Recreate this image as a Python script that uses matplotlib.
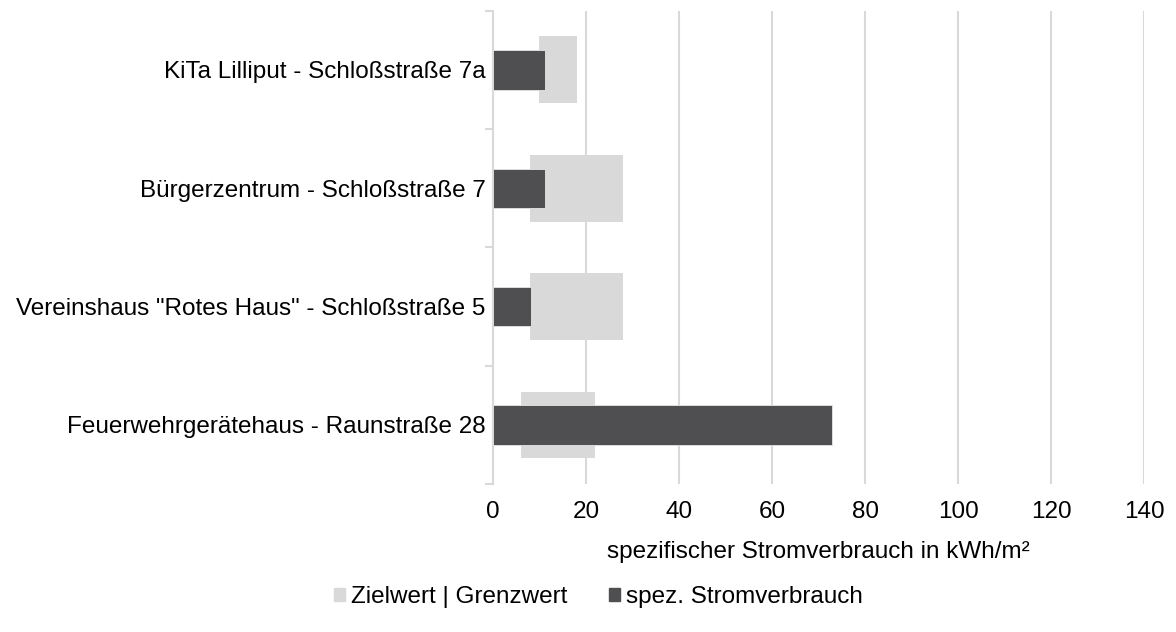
import matplotlib.pyplot as plt
from matplotlib.patches import Patch

plt.rcParams['font.family'] = ['Liberation Sans', 'DejaVu Sans']

# Daten
gebaeude = ['KiTa Lilliput - Schloßstraße 7a',
            'Bürgerzentrum - Schloßstraße 7',
            'Vereinshaus "Rotes Haus" - Schloßstraße 5',
            'Feuerwehrgerätehaus - Raunstraße 28']
zielwert = [10, 8, 8, 6]
grenzwert = [18, 28, 28, 22]
verbrauch = [11.3, 11.3, 8.3, 73]
xticks = [0, 20, 40, 60, 80, 100, 120, 140]

hell = '#d9d9d9'
dunkel = '#4f4f51'
fs = 17.5

fig = plt.figure(figsize=(11.76, 6.32), dpi=100)
ax = fig.add_axes([0.419, 0.234, 0.554, 0.749])

pos = list(range(len(gebaeude)))
spanne = [g - z for z, g in zip(zielwert, grenzwert)]
ax.barh(pos, spanne, left=zielwert, height=0.565, color=hell, zorder=2)
ax.barh(pos, verbrauch, height=0.333, color=dunkel, edgecolor='#e6e6e6',
        linewidth=0.6, zorder=3)

ax.set_xlim(0, 140)
ax.set_ylim(len(gebaeude) - 0.5, -0.5)
ax.set_xticks(xticks)
ax.set_xticklabels([str(x) for x in xticks], fontsize=fs)
ax.tick_params(axis='x', length=0, pad=12)

ax.set_yticks(pos)
ax.set_yticklabels(gebaeude, fontsize=fs)
ax.tick_params(axis='y', which='major', length=0, pad=5)
ax.set_yticks([p - 0.5 for p in range(len(gebaeude) + 1)], minor=True)
ax.tick_params(axis='y', which='minor', length=6, width=1.5, color=hell)

ax.grid(axis='x', color=hell, linewidth=1.5, zorder=0)
ax.set_axisbelow(True)
for s in ['top', 'right', 'bottom']:
    ax.spines[s].set_visible(False)
ax.spines['left'].set_color(hell)
ax.spines['left'].set_linewidth(1.5)

ax.set_xlabel('spezifischer Stromverbrauch in kWh/m²', fontsize=fs, labelpad=13)

handles = [Patch(color=hell, label='Zielwert | Grenzwert'),
           Patch(color=dunkel, label='spez. Stromverbrauch')]
fig.legend(handles=handles, loc='center', bbox_to_anchor=(0.509, 0.055), ncol=2,
           frameon=False, fontsize=fs, handlelength=0.45, handleheight=0.45,
           handletextpad=0.25, columnspacing=1.7)

fig.savefig('out.png', dpi=100)
